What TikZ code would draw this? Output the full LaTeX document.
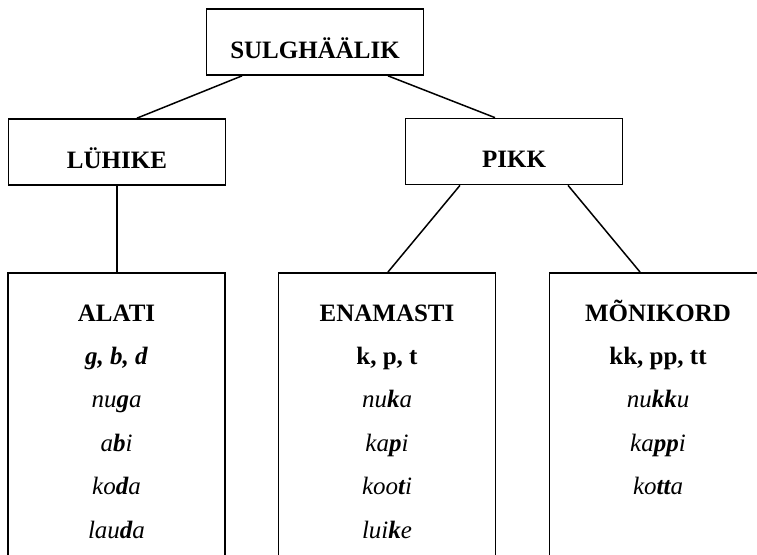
\documentclass[tikz,border=0pt]{standalone}
\usepackage{fontspec}
\setmainfont{Liberation Serif}
\usetikzlibrary{matrix,positioning}
\tikzset{
  box/.style={draw=black, line width=1.7pt, minimum width=217pt, minimum height=66pt, inner sep=0pt, text height=32pt, text depth=0pt, font=\fontsize{25}{30}\selectfont\bfseries},
  leaf/.style={draw=black, line width=1.7pt, minimum width=217pt, minimum height=320pt, anchor=north, inner sep=0pt},
  link/.style={draw=black, line width=1.5pt},
  list/.style={matrix of nodes, inner sep=0pt, outer sep=0pt, row sep=20.4pt,
    nodes={inner sep=0pt, text height=17pt, text depth=6pt, font=\fontsize{25}{30}\selectfont}},
}
\begin{document}
\begin{tikzpicture}[x=1pt, y=-1pt]
\fill[white] (0,0) rectangle (757,554);
\clip (0,0) rectangle (757,554);
% top levels
\node[box] (sulg) at (315,42) {SULGHÄÄLIK};
\node[box] (luhike) at (117,152) {LÜHIKE};
\node[box] (pikk) at (514,151.5) {PIKK};
% lower boxes
\node[leaf] (alati) at (116.5,272) {};
\node[leaf] (enamasti) at (387,272) {};
\node[leaf] (monikord) at (658,272) {};
\matrix[list, below=32pt of alati.north] (alatiList) {
\textbf{ALATI} \\
\textbf{\textit{g, b, d}} \\
\textit{nu\textbf{g}a} \\
\textit{a\textbf{b}i} \\
\textit{ko\textbf{d}a} \\
\textit{lau\textbf{d}a} \\
};
\matrix[list, below=32pt of enamasti.north] (enamastiList) {
\textbf{ENAMASTI} \\
\textbf{k, p, t} \\
\textit{nu\textbf{k}a} \\
\textit{ka\textbf{p}i} \\
\textit{koo\textbf{t}i} \\
\textit{lui\textbf{k}e} \\
};
\matrix[list, below=32pt of monikord.north] (monikordList) {
\textbf{MÕNIKORD} \\
\textbf{kk, pp, tt} \\
\textit{nu\textbf{kk}u} \\
\textit{ka\textbf{pp}i} \\
\textit{ko\textbf{tt}a} \\
};
% connectors
\draw[link] ([xshift=-73pt]sulg.south) -- ([xshift=20pt]luhike.north);
\draw[link] ([xshift=73pt]sulg.south) -- ([xshift=-19pt]pikk.north);
\draw[link] (luhike.south) -- (luhike.south |- alati.north);
\draw[link] ([xshift=-54pt]pikk.south) -- ([xshift=1pt]enamasti.north);
\draw[link] ([xshift=54pt]pikk.south) -- ([xshift=-18pt]monikord.north);
\end{tikzpicture}
\end{document}
